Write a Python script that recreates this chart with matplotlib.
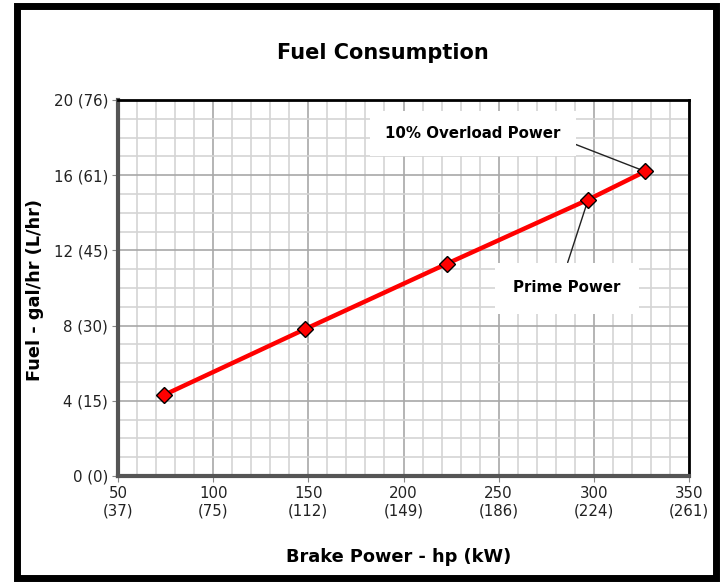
import numpy as np
import matplotlib.pyplot as plt
from matplotlib.patches import Rectangle

# values
hp = [74, 148, 223, 297, 327]
fuel = [4.3, 7.8, 11.3, 14.7, 16.2]

x_ticks = [50, 100, 150, 200, 250, 300, 350]
x_kw = [37, 75, 112, 149, 186, 224, 261]
y_ticks = [0, 4, 8, 12, 16, 20]
y_lph = [0, 15, 30, 45, 61, 76]

fig = plt.figure(figsize=(7.26, 5.86), dpi=100)
ax = fig.add_axes([118/726, 1-476/586, (689-118)/726, (476-100)/586])

ax.plot(hp, fuel, color="#ff0000", lw=3.2, zorder=3)
ax.plot(hp, fuel, ls="none", marker="D", ms=8, mfc="#ff0000", mec="black", mew=1, zorder=4)

ax.set_xlim(50, 350)
ax.set_ylim(0, 20)
ax.set_xticks(x_ticks)
ax.set_xticklabels([f"{a}\n({b})" for a, b in zip(x_ticks, x_kw)], fontsize=10.8, color="#222222")
ax.set_yticks(y_ticks)
ax.set_yticklabels([f"{a} ({b})" for a, b in zip(y_ticks, y_lph)], fontsize=10.8, color="#222222")
ax.set_xticks(np.arange(50, 351, 10), minor=True)
ax.set_yticks(np.arange(0, 21, 1), minor=True)
ax.grid(which="minor", color="#d4d4d4", lw=1.2, zorder=0)
ax.grid(which="major", color="#a8a8a8", lw=1.2, zorder=0)
ax.tick_params(which="minor", length=0)
ax.tick_params(which="major", length=4, color="#888888", pad=3)
ax.set_axisbelow(True)

for s in ["left", "bottom"]:
    ax.spines[s].set_linewidth(3)
    ax.spines[s].set_color("#555555")
for s in ["top", "right"]:
    ax.spines[s].set_linewidth(2)
    ax.spines[s].set_color("black")

ax.annotate("10% Overload Power", xy=(hp[4], fuel[4]), xytext=(236.5, 18.2),
            ha="center", va="center", fontsize=10.8, fontweight="bold",
            bbox=dict(boxstyle="square,pad=1.0", fc="white", ec="none"),
            arrowprops=dict(arrowstyle="-", color="#222222", lw=1, shrinkA=0, shrinkB=3,
                            relpos=(0.93, 0.5)))
ax.annotate("Prime Power", xy=(hp[3], fuel[3]), xytext=(286, 10.0),
            ha="center", va="center", fontsize=10.8, fontweight="bold",
            bbox=dict(boxstyle="square,pad=1.2", fc="white", ec="none"),
            arrowprops=dict(arrowstyle="-", color="#222222", lw=1, shrinkA=0, shrinkB=3,
                            relpos=(0.45, 1.0)))

fig.text(383/726, 1-53/586, "Fuel Consumption", ha="center", va="center",
         fontsize=15, fontweight="bold")
fig.text(399/726, 1-557/586, "Brake Power - hp (kW)", ha="center", va="center",
         fontsize=12.8, fontweight="bold")
fig.text(35/726, 1-290/586, "Fuel - gal/hr (L/hr)", ha="center", va="center",
         rotation=90, fontsize=12.8, fontweight="bold")

# black frame around the picture
fig.patches.append(Rectangle((16.5/726, 1-578/586), (716-16.5)/726, (578-6)/586,
                             transform=fig.transFigure, fill=False, ec="black", lw=5))

fig.savefig("out.png", dpi=100)
